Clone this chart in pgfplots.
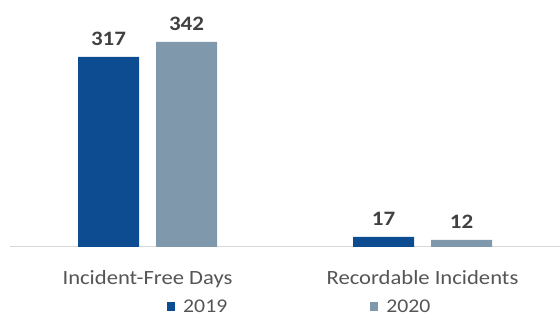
\documentclass[border=0pt]{standalone}
\usepackage{pgfplots}
\pgfplotsset{compat=1.18}
\usepackage{fontspec}
\setmainfont{Carlito}[FakeStretch=1.12]
\definecolor{c2019}{HTML}{0E4C92}
\definecolor{c2020}{HTML}{8098AC}
\definecolor{lbl}{HTML}{555555}
\definecolor{val}{HTML}{404040}
\definecolor{axl}{HTML}{D9D9D9}
\begin{document}
\begin{tikzpicture}
\useasboundingbox (0,0) rectangle (560pt,316pt);
\begin{axis}[
  at={(10pt,69pt)}, anchor=south west,
  scale only axis=true,
  width=550pt, height=240pt,
  xmin=-0.5, xmax=1.5,
  ymin=0, ymax=400,
  ybar=17pt, bar width=61pt,
  axis x line*=bottom,
  axis y line=none,
  axis line style={axl, line width=1pt},
  xtick={0,1},
  xticklabels={Incident-Free Days, Recordable Incidents},
  xticklabel style={font=\fontsize{20.2}{24}\selectfont, text=lbl, yshift=-20pt},
  major tick length=0pt,
  ytick=\empty,
  /pgf/number format/assume math mode=true,
  nodes near coords,
  every node near coord/.append style={font=\bfseries\fontsize{20.5}{24}\selectfont, text=val, yshift=8pt},
  legend columns=2,
  legend style={draw=none, fill=none, inner sep=0pt, at={(0.2855,-0.2479)}, anchor=west,
    font=\fontsize{19.4}{23}\selectfont, text=lbl,
    /tikz/every even column/.append style={column sep=141pt}},
  legend image code/.code={\fill[#1,draw=none] (0pt,-4.5pt) rectangle (8pt,4.5pt); \path (14pt,0pt);},
  clip=false,
]
\addplot[fill=c2019, draw=none] coordinates {(0,317) (1,17)};
\addplot[fill=c2020, draw=none] coordinates {(0,342) (1,12)};
\legend{2019, 2020}
\end{axis}
\end{tikzpicture}
\end{document}
